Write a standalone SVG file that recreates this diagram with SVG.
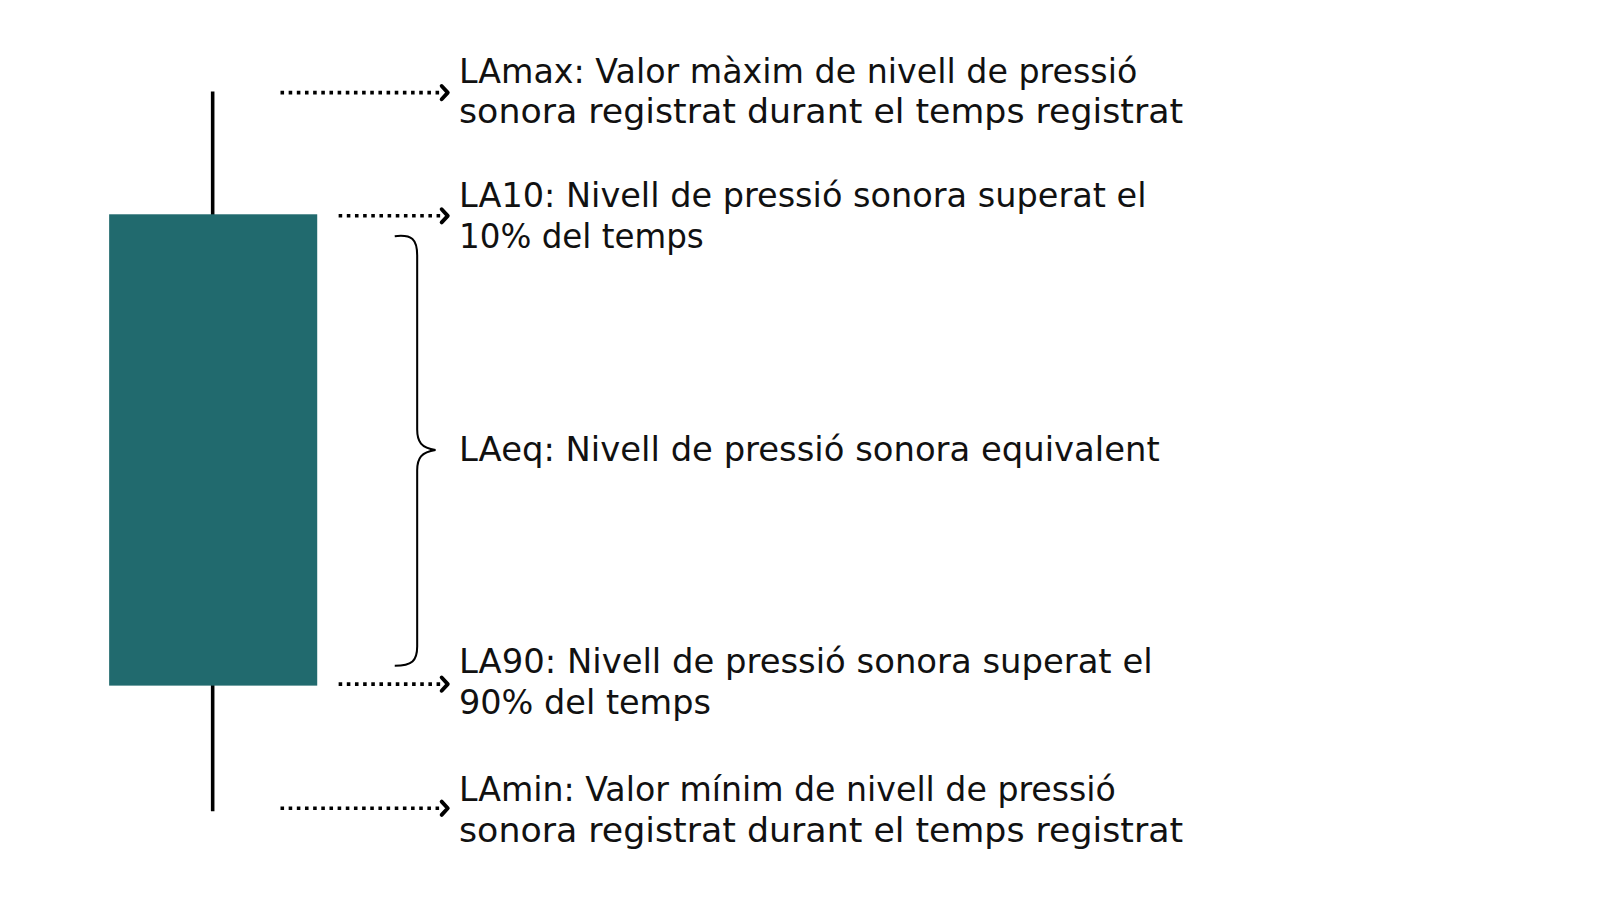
<svg xmlns="http://www.w3.org/2000/svg" width="1600" height="900" viewBox="0 0 1600 900">
<style>
.t{font-family:"DejaVu Sans","Liberation Sans",sans-serif;font-size:33px;fill:#111}
.dot{stroke:#000;stroke-width:3.5;stroke-dasharray:3.5 4.5;fill:none}
.head{stroke:#000;stroke-width:3.8;fill:none;stroke-linecap:round;stroke-linejoin:round}
</style>
<rect width="1600" height="900" fill="#fff"/>
<g transform="scale(1.02 1.018)">
<g id="candle">
<line x1="208.5" y1="90" x2="208.5" y2="797" stroke="#000" stroke-width="3.5"/>
<rect x="107" y="210.5" width="204" height="463" fill="#216a6e"/>
</g>
<g id="connectors">
<line class="dot" x1="275" y1="91" x2="434" y2="91"/>
<path class="head" d="M433,84.5 L439,91 L433,97.5"/>
<line class="dot" x1="332" y1="212" x2="434" y2="212"/>
<path class="head" d="M433,205.5 L439,212 L433,218.5"/>
<line class="dot" x1="332" y1="672" x2="434" y2="672"/>
<path class="head" d="M433,665.5 L439,672 L433,678.5"/>
<line class="dot" x1="275" y1="794" x2="434" y2="794"/>
<path class="head" d="M433,787.5 L439,794 L433,800.5"/>
<path d="M387,232 C404,230 409,235 409,251 L409,422 C409,434 413,440 427,442 C413,444 409,450 409,462 L409,635 C409,649 404,654 387,654" fill="none" stroke="#000" stroke-width="2"/>
</g>
<g id="lamax"><text class="t" x="450" y="82" textLength="665" lengthAdjust="spacingAndGlyphs">LAmax: Valor màxim de nivell de pressió</text><text class="t" x="450" y="120.5" textLength="710" lengthAdjust="spacingAndGlyphs">sonora registrat durant el temps registrat</text></g>
<g id="la10"><text class="t" x="450" y="203.5" textLength="674" lengthAdjust="spacingAndGlyphs">LA10: Nivell de pressió sonora superat el</text><text class="t" x="450" y="243.5" textLength="240" lengthAdjust="spacingAndGlyphs">10% del temps</text></g>
<g id="laeq"><text class="t" x="450" y="453" textLength="687" lengthAdjust="spacingAndGlyphs">LAeq: Nivell de pressió sonora equivalent</text></g>
<g id="la90"><text class="t" x="450" y="661" textLength="680" lengthAdjust="spacingAndGlyphs">LA90: Nivell de pressió sonora superat el</text><text class="t" x="450" y="701" textLength="247" lengthAdjust="spacingAndGlyphs">90% del temps</text></g>
<g id="lamin"><text class="t" x="450" y="787" textLength="644" lengthAdjust="spacingAndGlyphs">LAmin: Valor mínim de nivell de pressió</text><text class="t" x="450" y="827" textLength="710" lengthAdjust="spacingAndGlyphs">sonora registrat durant el temps registrat</text></g>
</g>
</svg>
